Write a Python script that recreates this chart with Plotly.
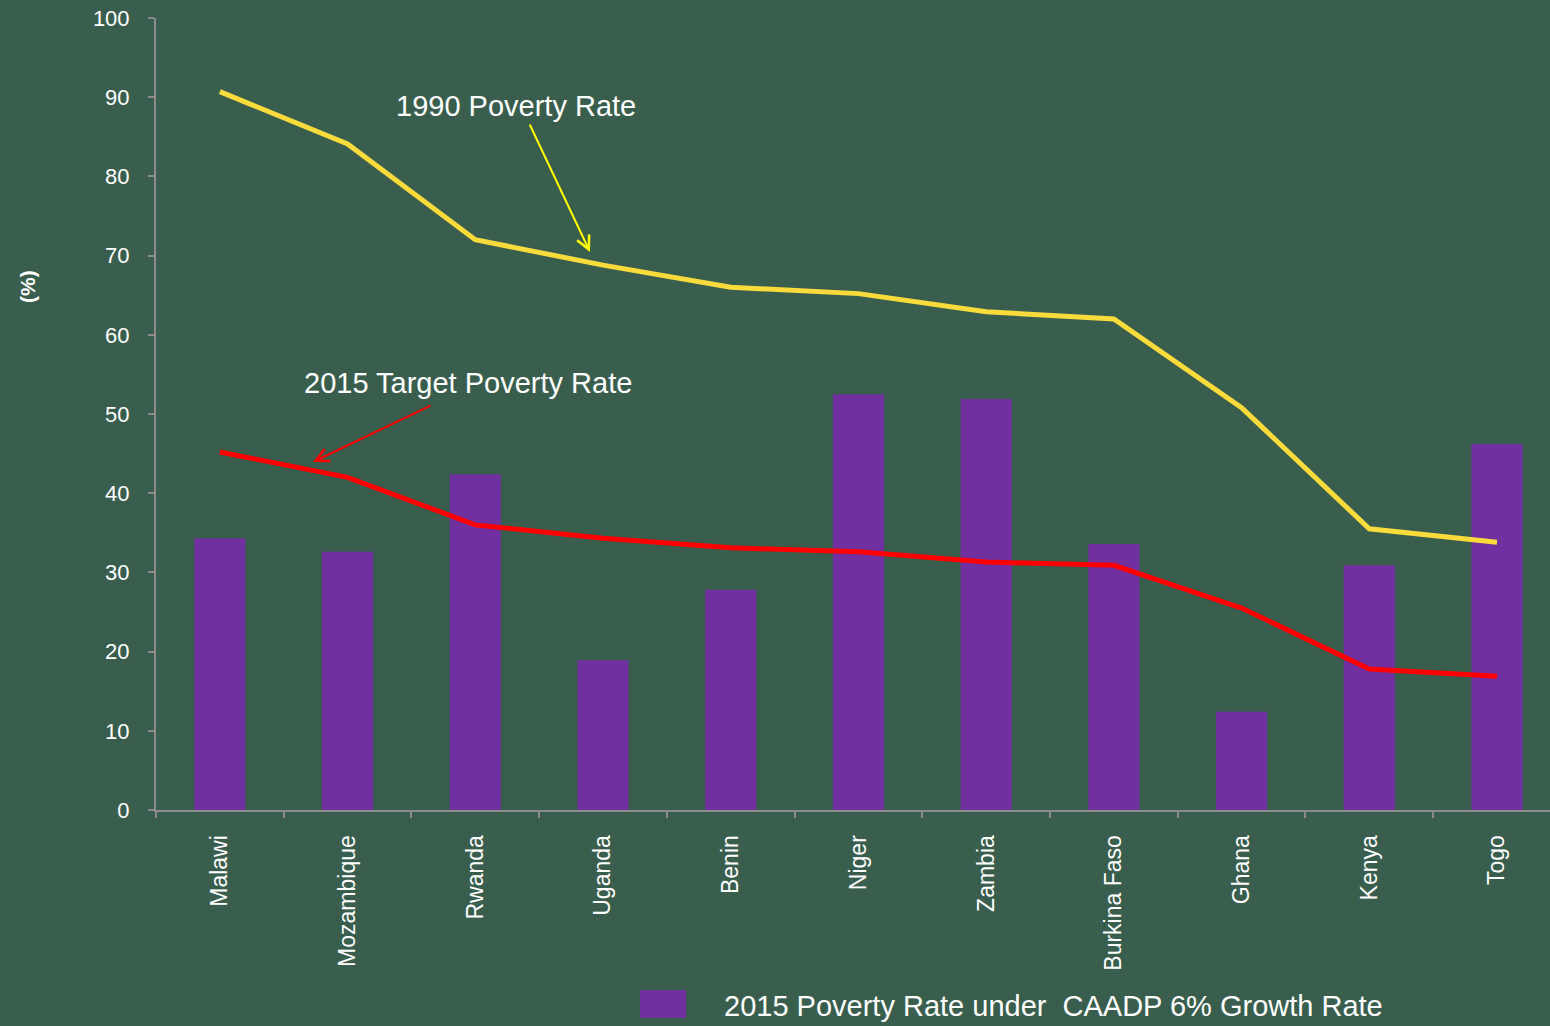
import plotly.graph_objects as go

countries = ["Malawi", "Mozambique", "Rwanda", "Uganda", "Benin", "Niger",
             "Zambia", "Burkina Faso", "Ghana", "Kenya", "Togo"]
rate_caadp_2015 = [34.3, 32.6, 42.4, 18.9, 27.8, 52.5, 51.9, 33.6, 12.4, 30.9, 46.2]
rate_1990 = [90.7, 84.1, 72.0, 68.8, 66.0, 65.2, 62.9, 62.0, 50.8, 35.5, 33.8]
target_2015 = [45.2, 42.0, 36.0, 34.3, 33.1, 32.6, 31.3, 30.9, 25.5, 17.8, 16.9]
y_ticks = [0, 10, 20, 30, 40, 50, 60, 70, 80, 90, 100]

BG = "#3a5e4e"
FONT = "Liberation Sans, Arial, sans-serif"

fig = go.Figure()
fig.add_trace(go.Bar(x=countries, y=rate_caadp_2015, width=0.4,
                     marker=dict(color="#7030a0", line=dict(width=0)),
                     name="2015 Poverty Rate under  CAADP 6% Growth Rate",
                     showlegend=False))
fig.add_trace(go.Scatter(x=countries, y=rate_1990, mode="lines",
                         line=dict(color="#fadb3c", width=5),
                         name="1990 Poverty Rate", showlegend=False))
fig.add_trace(go.Scatter(x=countries, y=target_2015, mode="lines",
                         line=dict(color="#ff0000", width=5),
                         name="2015 Target Poverty Rate", showlegend=False))

W, H = 1550, 1026
L, R, T, B = 156, 0, 18, 216
pw, ph = W - L - R, H - T - B

def px(x):
    return (x - L) / pw

def py(y):
    return (H - B - y) / ph

fig.update_layout(
    width=W, height=H,
    margin=dict(l=L, r=R, t=T, b=B, pad=0),
    paper_bgcolor=BG, plot_bgcolor=BG,
    font=dict(family=FONT, color="white"),
    xaxis=dict(type="category", range=[-0.5, 10.415], showgrid=False,
               showline=True, linecolor="#8c8c8c", linewidth=2,
               ticks="outside", tickson="boundaries", ticklen=6,
               tickcolor="#8c8c8c", tickwidth=2,
               tickangle=-90, tickfont=dict(size=23, color="white"),
               ticklabelstandoff=14),
    yaxis=dict(range=[0, 100], tickvals=y_ticks, showgrid=False,
               zeroline=False, showline=True, linecolor="#8c8c8c",
               linewidth=2, ticks="outside", ticklen=6,
               tickcolor="#8c8c8c", tickwidth=2,
               tickfont=dict(size=22, color="white"),
               ticklabelstandoff=14),
)

annos = [
    dict(text="1990 Poverty Rate", x=px(516), y=py(106), xref="paper", yref="paper",
         showarrow=False, font=dict(size=29, color="white"), xanchor="center", yanchor="middle"),
    dict(text="2015 Target Poverty Rate", x=px(468), y=py(383), xref="paper", yref="paper",
         showarrow=False, font=dict(size=29, color="white"), xanchor="center", yanchor="middle"),
    dict(text="", x=px(590), y=py(252), xref="paper", yref="paper",
         ax=529 - 590, ay=123 - 252, showarrow=True, arrowhead=5, arrowsize=1.3,
         arrowwidth=2, arrowcolor="#ffff00", standoff=0),
    dict(text="", x=px(313), y=py(462), xref="paper", yref="paper",
         ax=432 - 313, ay=405 - 462, showarrow=True, arrowhead=5, arrowsize=1.3,
         arrowwidth=2, arrowcolor="#ff0000", standoff=0),
    dict(text="<b>(%)</b>", x=px(27), y=py(287), xref="paper", yref="paper",
         showarrow=False, textangle=-90, font=dict(size=21, color="white"),
         xanchor="center", yanchor="middle"),
    dict(text="2015 Poverty Rate under  CAADP 6% Growth Rate", x=px(722), y=py(1006),
         xref="paper", yref="paper", showarrow=False, font=dict(size=29, color="white"),
         xanchor="left", yanchor="middle"),
]
fig.update_layout(annotations=annos)
fig.add_shape(type="rect", xref="paper", yref="paper",
              x0=px(640), x1=px(686), y0=py(1018), y1=py(990),
              fillcolor="#7030a0", line=dict(width=0))

fig.write_html("out.html", config={"displayModeBar": False},
               post_script="document.body.style.margin='0';document.body.style.overflow='hidden';document.body.style.background='%s';" % BG)
